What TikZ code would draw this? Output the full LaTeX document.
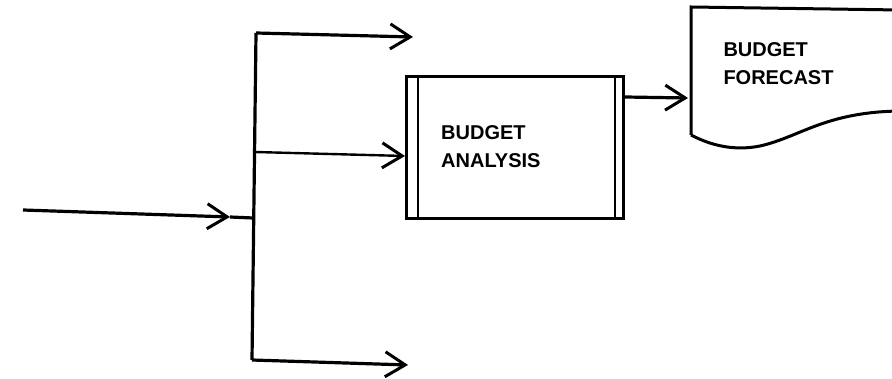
\documentclass[tikz,border=0pt]{standalone}
\usepackage{fontspec}
\setmainfont{Liberation Sans}
\usetikzlibrary{arrows.meta}
\begin{document}
\begin{tikzpicture}[x=1pt,y=-1pt,line join=miter,
  barb/.style={-{Straight Barb[length=20pt,width=25pt,line width=3pt]}},
  flow/.style={line width=3.2pt},
  thin flow/.style={line width=2.4pt},
  outline/.style={draw,line width=3pt},
  lbl/.style={font=\bfseries\fontsize{20}{28.3}\selectfont,align=left,inner sep=0pt,anchor=west}]
\useasboundingbox (0,0) rectangle (892,379);
\fill[white] (0,0) rectangle (892,379);
% process box
\node[outline,minimum width=217pt,minimum height=142pt,inner sep=0pt,anchor=north west] (proc) at (405,75) {};
\draw[line width=2.4pt] ([xshift=13pt]proc.north west) -- ([xshift=13pt]proc.south west);
\draw[line width=2.4pt] ([xshift=-10pt]proc.north east) -- ([xshift=-10pt]proc.south east);
\node[lbl] (proctext) at (441,146.7) {BUDGET\\ANALYSIS};
% document
\draw[outline] (691,135) -- (691,7) -- (900,10);
\draw[outline] (691,135) .. controls (712,146) and (735,151) .. (760,146) .. controls (800,137) and (825,112) .. (900,111);
\node[lbl] (doctext) at (723.3,63.3) {BUDGET\\FORECAST};
\coordinate (docin) at (688,98);
% bus
\coordinate (bt) at (256,33);
\coordinate (bm) at (255,152);
\coordinate (bi) at (253,218);
\coordinate (bb) at (252,360);
\draw[flow] (bt) -- (bb);
% input
\coordinate (in) at (23,210);
\coordinate (inhead) at (230,217);
\draw[flow,barb] (in) -- (inhead);
\draw[flow] (inhead) -- (bi);
% branches
\coordinate (topend) at (413,37);
\coordinate (botend) at (408,365);
\draw[flow,barb] (bt) -- (topend);
\draw[thin flow,barb] (bm) -- (proc.west |- 0,156);
\draw[flow,barb] (bb) -- (botend);
% output
\draw[flow,barb] (proc.east |- 0,97) -- (docin);
\end{tikzpicture}
\end{document}
